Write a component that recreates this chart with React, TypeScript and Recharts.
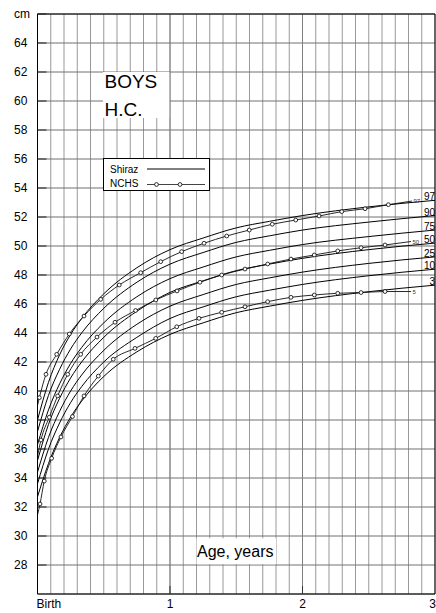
import React from 'react';
import { LineChart, Line, XAxis, YAxis, CartesianGrid, ReferenceLine, ReferenceArea, Legend } from 'recharts';

const FONT = '"Liberation Sans", Arial, sans-serif';

// x axis in years, grid every 0.1 year
const ageTicks = [0, 0.1, 0.2, 0.3, 0.4, 0.5, 0.6, 0.7, 0.8, 0.9, 1, 1.1, 1.2, 1.3, 1.4, 1.5, 1.6, 1.7, 1.8, 1.9, 2, 2.1, 2.2, 2.3, 2.4, 2.5, 2.6, 2.7, 2.8, 2.9, 3];
const yearLabels: Record<number, string> = { 0: 'Birth', 1: '1', 2: '2', 3: '3' };
const cmTicks = [26, 28, 30, 32, 34, 36, 38, 40, 42, 44, 46, 48, 50, 52, 54, 56, 58, 60, 62, 64, 66];

// Shiraz percentiles
const shirazAges = [0, 0.083, 0.167, 0.25, 0.333, 0.5, 0.75, 1, 1.25, 1.5, 1.75, 2, 2.5, 3];
const shiraz97 = [38.0, 40.6, 42.5, 43.9, 45.0, 46.7, 48.5, 49.75, 50.55, 51.25, 51.7, 52.1, 52.7, 53.15];
const shiraz90 = [37.2, 39.7, 41.5, 42.9, 44.0, 45.7, 47.5, 48.75, 49.55, 50.25, 50.7, 51.1, 51.65, 52.1];
const shiraz75 = [36.3, 38.7, 40.5, 41.9, 43.0, 44.7, 46.5, 47.75, 48.55, 49.25, 49.7, 50.1, 50.65, 51.1];
const shiraz50 = [35.2, 37.7, 39.5, 40.9, 42.0, 43.7, 45.5, 46.8, 47.6, 48.3, 48.75, 49.15, 49.75, 50.2];
const shiraz25 = [34.4, 36.8, 38.6, 40.0, 41.1, 42.8, 44.6, 45.85, 46.65, 47.35, 47.8, 48.2, 48.8, 49.25];
const shiraz10 = [33.6, 36.0, 37.8, 39.2, 40.3, 42.0, 43.7, 45.0, 45.8, 46.5, 46.95, 47.35, 47.95, 48.4];
const shiraz3 = [32.7, 35.0, 36.8, 38.2, 39.3, 41.0, 42.7, 43.9, 44.7, 45.4, 45.85, 46.25, 46.85, 47.3];

// NCHS reference (points as marked on the curves)
const nchs95Ages = [0, 0.014, 0.064, 0.145, 0.24, 0.351, 0.477, 0.617, 0.779, 0.93, 1.088, 1.257, 1.428, 1.598, 1.772, 1.949, 2.125, 2.296, 2.472, 2.648, 2.826];
const nchs95 = [39.0, 39.54, 41.15, 42.53, 43.93, 45.17, 46.32, 47.31, 48.16, 48.92, 49.61, 50.19, 50.69, 51.1, 51.5, 51.79, 52.07, 52.37, 52.57, 52.85, 53.1];
const nchs50Ages = [0, 0.026, 0.089, 0.152, 0.228, 0.326, 0.449, 0.585, 0.74, 0.893, 1.053, 1.226, 1.39, 1.566, 1.737, 1.913, 2.089, 2.266, 2.442, 2.623, 2.819];
const nchs50 = [35.5, 36.62, 38.19, 39.66, 41.15, 42.53, 43.72, 44.74, 45.55, 46.28, 46.9, 47.5, 48.0, 48.41, 48.76, 49.1, 49.38, 49.66, 49.88, 50.07, 50.31];
const nchs5Ages = [0, 0.019, 0.051, 0.107, 0.177, 0.264, 0.351, 0.459, 0.572, 0.736, 0.892, 1.051, 1.219, 1.39, 1.566, 1.737, 1.913, 2.089, 2.266, 2.442, 2.623, 2.819];
const nchs5 = [31.45, 32.21, 33.79, 35.36, 36.83, 38.24, 39.66, 41.03, 42.19, 42.94, 43.63, 44.43, 45.01, 45.43, 45.81, 46.16, 46.46, 46.62, 46.74, 46.79, 46.86, 46.86];

const toRows = (ages: number[], vals: number[]) => ages.map((age, i) => ({ age, cm: vals[i] }));

const shirazSeries = [
  { name: '97', data: toRows(shirazAges, shiraz97) },
  { name: '90', data: toRows(shirazAges, shiraz90) },
  { name: '75', data: toRows(shirazAges, shiraz75) },
  { name: '50', data: toRows(shirazAges, shiraz50) },
  { name: '25', data: toRows(shirazAges, shiraz25) },
  { name: '10', data: toRows(shirazAges, shiraz10) },
  { name: '3', data: toRows(shirazAges, shiraz3) },
];

const nchsSeries = [
  { name: '97', data: toRows(nchs95Ages, nchs95) },
  { name: '50', data: toRows(nchs50Ages, nchs50) },
  { name: '5', data: toRows(nchs5Ages, nchs5) },
];

const XTick = (props: any) => {
  const { x, y, payload } = props;
  const v = Math.round(payload.value * 10) / 10;
  const label = yearLabels[v];
  if (label === undefined) return <g />;
  const anchor = v === 0 ? 'start' : v === 3 ? 'end' : 'middle';
  return (
    <g>
      {v === 1 || v === 2 ? <line x1={x} x2={x} y1={y - 8} y2={y} stroke="#333" /> : null}
      <text x={v === 0 ? x - 1 : v === 3 ? x + 1 : x} y={y + 14} textAnchor={anchor} fontSize={12} fontFamily={FONT} fill="#000">
        {label}
      </text>
    </g>
  );
};

const YTick = (props: any) => {
  const { x, y, payload } = props;
  const v = payload.value;
  if (v === 26) return <g />;
  return (
    <g>
      <line x1={x} x2={x + 9} y1={y} y2={y} stroke="#222" />
      <text x={x - 23.5} y={y + 4.3} textAnchor="start" fontSize={12} fontFamily={FONT} fill="#000">
        {v === 66 ? 'cm' : v}
      </text>
    </g>
  );
};

const endLabel = (len: number, name: string, big: boolean) => (props: any) => {
  const { x, y, index } = props;
  if (index !== len - 1) return <g />;
  return big ? (
    <text x={x} y={y} textAnchor="end" fontSize={10} fontFamily={FONT} fill="#000">{name}</text>
  ) : (
    <text x={x + 1.5} y={y + 2} textAnchor="start" fontSize={6} fontFamily={FONT} fill="#333">{name}</text>
  );
};

const nchsDot = (len: number) => (props: any) => {
  const { cx, cy, index } = props;
  if (index === 0 || index === len - 1) return <g key={`d${index}`} />;
  return <circle key={`d${index}`} cx={cx} cy={cy} r={1.9} fill="#fff" stroke="#000" strokeWidth={0.8} />;
};

const LegendBox = () => (
  <svg width={107} height={34} style={{ display: 'block' }}>
    <rect x={0.5} y={0.5} width={106} height={32} fill="#fff" stroke="#000" />
    <text x={7} y={14.5} fontSize={10} fontFamily={FONT}>Shiraz</text>
    <line x1={44} x2={102} y1={11} y2={11} stroke="#000" />
    <text x={7} y={28.5} fontSize={10} fontFamily={FONT}>NCHS</text>
    <line x1={44} x2={102} y1={26.5} y2={26.5} stroke="#444" />
    <circle cx={53.5} cy={26.5} r={1.9} fill="#fff" stroke="#000" strokeWidth={0.8} />
    <circle cx={77} cy={26.5} r={1.9} fill="#fff" stroke="#000" strokeWidth={0.8} />
  </svg>
);

export default function App() {
  return (
    <div style={{ position: 'absolute', left: 0, top: 0, width: 436, height: 613, background: '#fff' }}>
      <LineChart width={436} height={613} margin={{ top: 14, right: 1, left: 0, bottom: 0 }}>
        <CartesianGrid horizontal={false} stroke="#999" />
        <CartesianGrid vertical={false} stroke="#707070" />
        <XAxis
          type="number"
          dataKey="age"
          domain={[0, 3]}
          ticks={ageTicks}
          interval={0}
          height={19}
          tickSize={0}
          tickMargin={0}
          tick={<XTick />}
          axisLine={{ stroke: '#000' }}
          allowDuplicatedCategory={false}
        />
        <YAxis
          type="number"
          dataKey="cm"
          domain={[26, 66]}
          ticks={cmTicks}
          interval={0}
          width={37.5}
          tickSize={0}
          tickMargin={0}
          tick={<YTick />}
          axisLine={{ stroke: '#000' }}
        />
        <ReferenceLine x={1} stroke="#808080" />
        <ReferenceLine x={2} stroke="#808080" />
        <ReferenceLine y={66} stroke="#000" />
        <ReferenceLine x={3} stroke="#000" />
        <ReferenceArea
          x1={0.494}
          x2={0.998}
          y1={58.83}
          y2={62.0}
          fill="#fff"
          fillOpacity={1}
          stroke="none"
          label={(p: any) => (
            <g>
              <text x={p.viewBox.x + 1.5} y={p.viewBox.y + 16} fontSize={19} fontFamily={FONT} fill="#000">BOYS</text>
              <text x={p.viewBox.x + 1.5} y={p.viewBox.y + 44} fontSize={19} fontFamily={FONT} fill="#000">H.C.</text>
            </g>
          )}
        />
        <ReferenceArea
          x1={1.2}
          x2={1.8}
          y1={28.05}
          y2={29.85}
          fill="#fff"
          fillOpacity={1}
          stroke="none"
          label={(p: any) => (
            <text x={p.viewBox.x + 0.5} y={p.viewBox.y + 19} fontSize={16} fontFamily={FONT} fill="#000">Age, years</text>
          )}
        />
        {shirazSeries.map((s) => (
          <Line
            key={`s${s.name}`}
            data={s.data}
            dataKey="cm"
            type="monotone"
            stroke="#000"
            strokeWidth={1}
            dot={false}
            isAnimationActive={false}
            label={endLabel(s.data.length, s.name, true)}
          />
        ))}
        {nchsSeries.map((s) => (
          <Line
            key={`n${s.name}`}
            data={s.data}
            dataKey="cm"
            type="monotone"
            stroke="#111"
            strokeWidth={0.9}
            dot={nchsDot(s.data.length)}
            isAnimationActive={false}
            label={endLabel(s.data.length, s.name, false)}
          />
        ))}
        <Legend
          layout="vertical"
          align="center"
          verticalAlign="middle"
          content={() => <LegendBox />}
          wrapperStyle={{ left: 103, top: 158, width: 107, height: 34 }}
        />
      </LineChart>
    </div>
  );
}
